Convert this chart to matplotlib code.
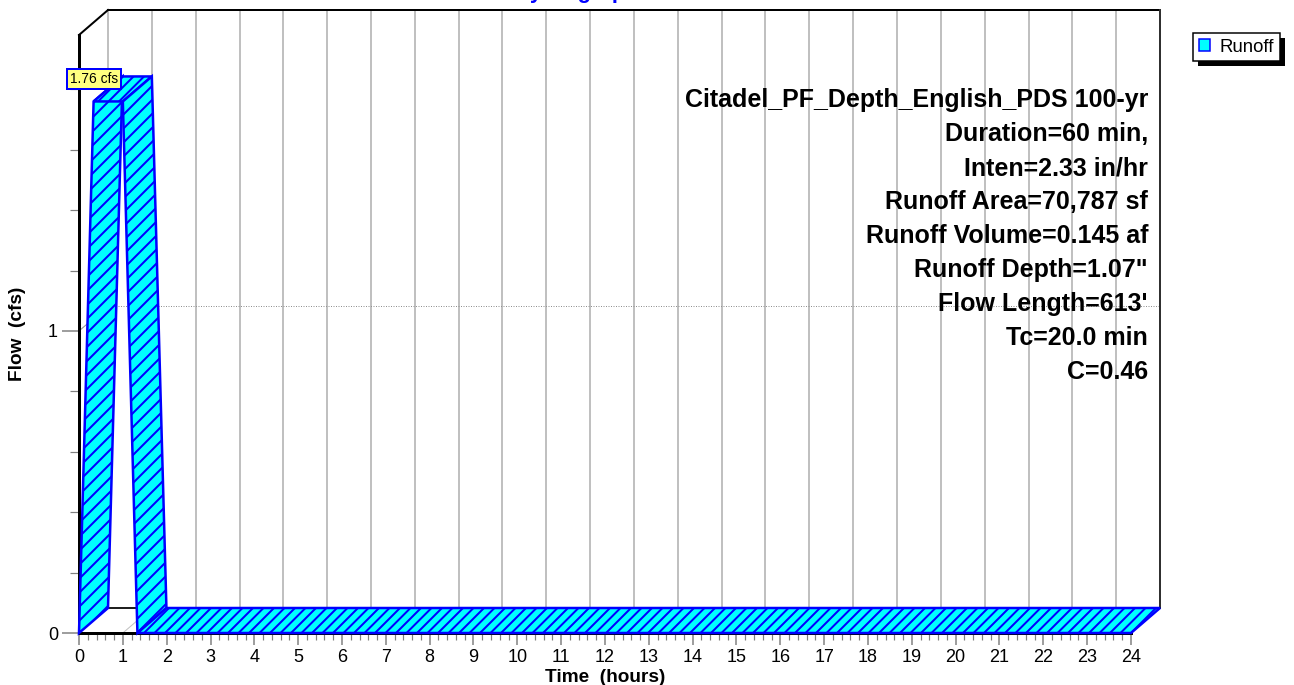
import numpy as np
import matplotlib
matplotlib.use("Agg")
import matplotlib.pyplot as plt
from matplotlib.patches import Polygon, Patch, Rectangle
from matplotlib.transforms import IdentityTransform

# ---- hydrograph data (modified rational method) ----
time_hr = [0.0, 0.333, 1.0, 1.333, 24.0]
flow_cfs = [0.0, 1.76, 1.76, 0.0, 0.0]
peak_label = "1.76 cfs"
series_name = "Runoff"
title = "Hydrograph"

info_lines = [
    "Citadel_PF_Depth_English_PDS 100-yr",
    "Duration=60 min,",
    "Inten=2.33 in/hr",
    "Runoff Area=70,787 sf",
    "Runoff Volume=0.145 af",
    "Runoff Depth=1.07\"",
    "Flow Length=613'",
    "Tc=20.0 min",
    "C=0.46",
]

x_ticks = list(range(0, 25))
y_ticks = [0, 1]
y_max = 1.98

# ---- figure geometry (pixels) ----
DPI = 126
W, H = 1294, 685
def pt(px):
    return px * 72.0 / DPI

plt.rcParams['font.family'] = ['Liberation Sans', 'DejaVu Sans']
plt.rcParams['hatch.color'] = '#0000FF'
plt.rcParams['hatch.linewidth'] = pt(2.0)

fig = plt.figure(figsize=(W / DPI, H / DPI), dpi=DPI)
fig.patch.set_facecolor('white')

left, right, bottom, top = 79, 1131, 633, 35
ax = fig.add_axes([left / W, (H - bottom) / H, (right - left) / W, (bottom - top) / H])
ax.set_xlim(0, 24)
ax.set_ylim(0, y_max)
ax.patch.set_visible(False)

# depth offset of the 3-D box, expressed in data units
depth_px = np.array([29.0, 25.0])
origin = ax.transData.transform((0.0, 0.0))
dx, dy = ax.transData.inverted().transform(origin + depth_px)

GRID = '#C0C0C0'

# back wall grid: hourly verticals
for h in x_ticks:
    ax.plot([h + dx, h + dx], [dy, y_max + dy], color=GRID, lw=pt(2), zorder=1, clip_on=False)
    # floor lines from front to back
    ax.plot([h, h + dx], [0, dy], color=GRID, lw=pt(1), zorder=1, clip_on=False)

# back wall horizontal grid at 1 cfs (dotted) and its side diagonal
ax.plot([dx, 24 + dx], [1 + dy, 1 + dy], color='#909090', lw=pt(1), ls=(0, (1, 1.5)),
        zorder=1, clip_on=False)
ax.plot([0, dx], [1, 1 + dy], color='#909090', lw=pt(1), zorder=1, clip_on=False)

# back wall frame
ax.plot([dx, 24 + dx], [y_max + dy, y_max + dy], color='black', lw=pt(2), zorder=2, clip_on=False)
ax.plot([24 + dx, 24 + dx], [dy, y_max + dy], color='#303030', lw=pt(2), zorder=2, clip_on=False)
ax.plot([dx, 24 + dx], [dy, dy], color='#202020', lw=pt(2), zorder=2, clip_on=False)
ax.plot([0, dx], [y_max, y_max + dy], color='black', lw=pt(2), zorder=2, clip_on=False)

# ribbon: one face per hydrograph segment, extruded along the depth axis
t = np.asarray(time_hr)
q = np.asarray(flow_cfs)
for i in range(len(t) - 1):
    face = [(t[i], q[i]), (t[i + 1], q[i + 1]),
            (t[i + 1] + dx, q[i + 1] + dy), (t[i] + dx, q[i] + dy)]
    steep = q[i] != q[i + 1]
    ax.add_patch(Polygon(face, closed=True, facecolor='#00FFFF', edgecolor='#0000FF',
                         hatch='///' if steep else '////', lw=pt(2.5),
                         joinstyle='miter', zorder=4, clip_on=False))

# axes spines (front)
for side in ('top', 'right'):
    ax.spines[side].set_visible(False)
for side in ('left', 'bottom'):
    ax.spines[side].set_color('black')
    ax.spines[side].set_linewidth(pt(3))
    ax.spines[side].set_zorder(3)

ax.set_xticks(x_ticks)
ax.set_xticks(np.arange(0, 24.01, 0.2), minor=True)
ax.set_yticks(y_ticks)
ax.set_yticks(np.arange(0, y_max, 0.2), minor=True)
ax.tick_params(axis='x', which='major', length=7, width=pt(1.5), color='#808080',
               labelsize=pt(18), pad=2)
ax.tick_params(axis='x', which='minor', length=4, width=pt(1.2), color='#808080')
ax.tick_params(axis='y', which='major', length=10, width=pt(1.5), color='#808080',
               labelsize=pt(18), pad=2)
ax.tick_params(axis='y', which='minor', length=5, width=pt(1.2), color='#808080')

# peak flow label
ax.annotate(peak_label, xy=(t[1], q[1]), xytext=(0, pt(22.5)), textcoords='offset points',
            ha='center', va='center', fontsize=pt(13.7), zorder=6,
            bbox=dict(boxstyle='square,pad=0.22', facecolor='#FFFF80', edgecolor='#0000FF',
                      linewidth=pt(2)))

# axis labels and title
fig.text(18 / W, 1 - 334 / H, "Flow  (cfs)", rotation=90, ha='center', va='center',
         fontsize=pt(19), fontweight='bold')
fig.text(605 / W, 1 - 677 / H, "Time  (hours)", ha='center', va='center',
         fontsize=pt(19), fontweight='bold')
fig.text(577 / W, 1 + 2 / H, title, ha='center', va='baseline', color='#0000FF',
         fontsize=pt(22), fontweight='bold')

# summary block, right aligned inside the plot
for k, line in enumerate(info_lines):
    fig.text(1148 / W, 1 - (100 + 34 * k) / H, line, ha='right', va='center',
             fontsize=pt(25), fontweight='bold', zorder=7)

# legend with a solid drop shadow
handle = Patch(facecolor='#00FFFF', edgecolor='#0000FF', linewidth=pt(1.5))
leg = fig.legend([handle], [series_name], loc='upper left',
                 bbox_to_anchor=(1193 / W, 1 - 33 / H), borderaxespad=0,
                 fontsize=pt(18.7), frameon=True, fancybox=False, framealpha=1.0,
                 facecolor='white', edgecolor='black',
                 handlelength=0.62, handleheight=0.62, handletextpad=0.5,
                 borderpad=0.3)
leg.get_frame().set_linewidth(pt(1.5))
leg.set_zorder(10)

fig.canvas.draw()
bb = leg.get_frame().get_window_extent()
shadow = Rectangle((bb.x0 + 5, bb.y0 - 5), bb.width, bb.height, transform=IdentityTransform(),
                   facecolor='black', edgecolor='none', zorder=9)
fig.add_artist(shadow)

fig.savefig('out.png', dpi=DPI, facecolor='white')
